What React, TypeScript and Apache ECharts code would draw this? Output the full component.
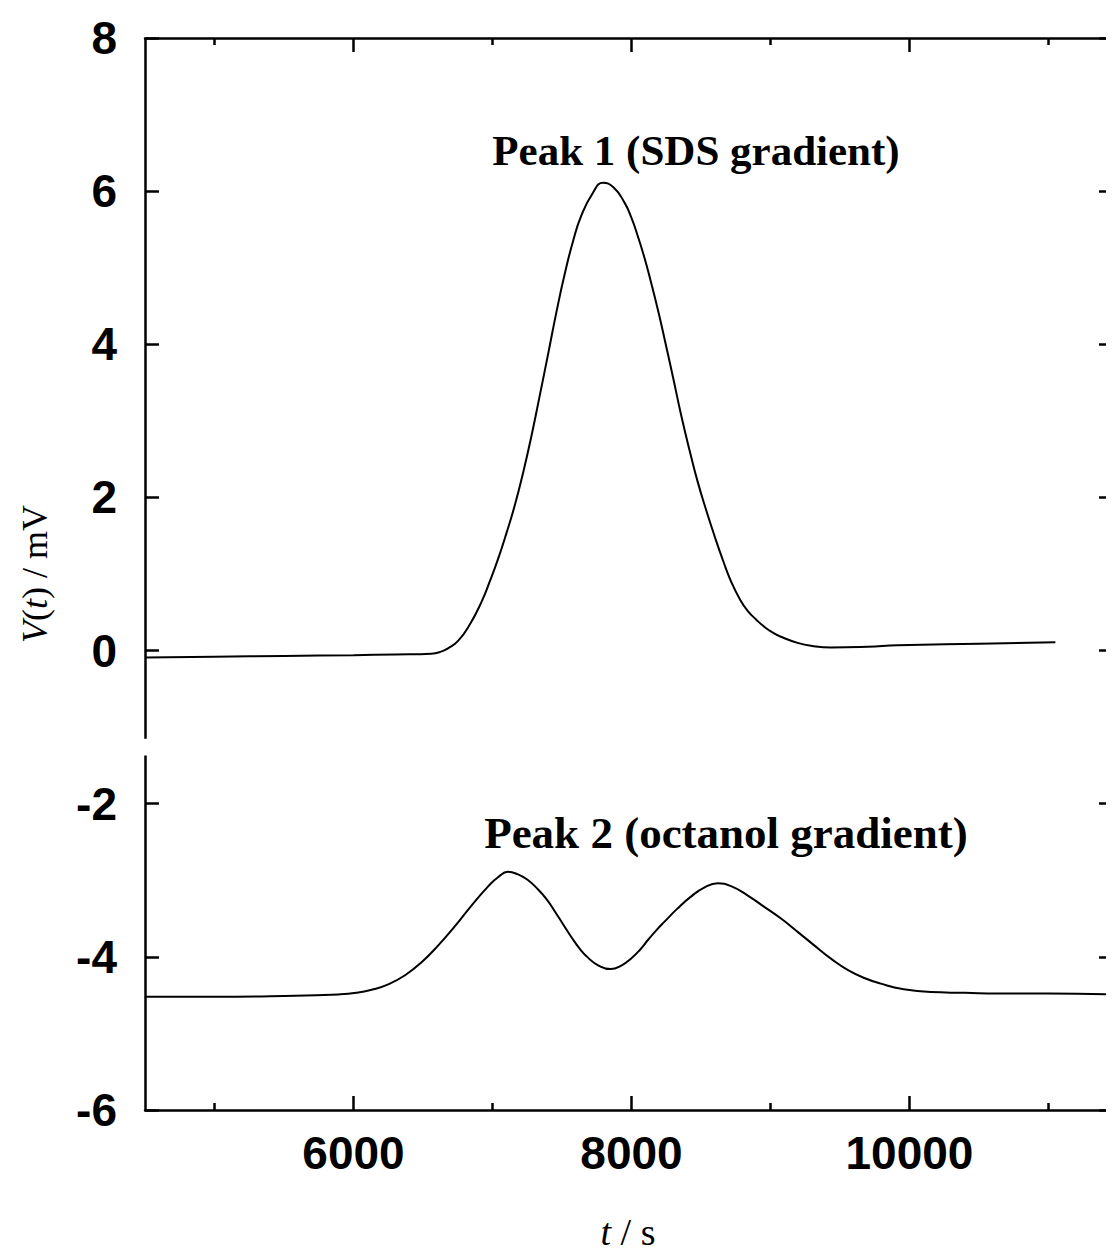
import React, { useEffect, useRef } from "react";
import * as echarts from "echarts";

// ---- data ----
const peak1T = [4500, 5000, 5500, 6000, 6300, 6560, 6620, 6680, 6754, 6840, 6922, 6980, 7041, 7100, 7161, 7220, 7280, 7340, 7400, 7460, 7520, 7580, 7639, 7720, 7795, 7870, 7950, 8000, 8046, 8095, 8142, 8190, 8238, 8300, 8358, 8420, 8477, 8540, 8597, 8660, 8717, 8780, 8836, 8900, 8956, 9020, 9075, 9195, 9300, 9435, 9700, 9915, 10500, 11050];
const peak1V = [-0.09, -0.08, -0.07, -0.06, -0.05, -0.04, -0.02, 0.03, 0.13, 0.35, 0.64, 0.9, 1.2, 1.53, 1.9, 2.32, 2.8, 3.33, 3.87, 4.42, 4.92, 5.35, 5.68, 5.97, 6.11, 6.05, 5.85, 5.65, 5.41, 5.12, 4.8, 4.45, 4.07, 3.56, 3.07, 2.6, 2.2, 1.82, 1.5, 1.17, 0.9, 0.67, 0.52, 0.4, 0.31, 0.23, 0.18, 0.1, 0.06, 0.04, 0.05, 0.07, 0.09, 0.11];

const peak2T = [4500, 5000, 5500, 5892, 6020, 6131, 6250, 6371, 6490, 6610, 6730, 6849, 6969, 7040, 7112, 7180, 7250, 7328, 7390, 7450, 7510, 7567, 7630, 7687, 7760, 7850, 7930, 7998, 8060, 8118, 8180, 8238, 8330, 8430, 8520, 8621, 8720, 8837, 8950, 9076, 9200, 9315, 9440, 9555, 9680, 9794, 9950, 10153, 10400, 10632, 11000, 11450];
const peak2V = [-4.52, -4.52, -4.51, -4.49, -4.47, -4.43, -4.36, -4.24, -4.07, -3.85, -3.6, -3.33, -3.08, -2.96, -2.89, -2.92, -2.99, -3.12, -3.25, -3.41, -3.58, -3.74, -3.9, -4.01, -4.11, -4.16, -4.11, -4.02, -3.91, -3.78, -3.65, -3.54, -3.37, -3.21, -3.1, -3.04, -3.08, -3.2, -3.34, -3.5, -3.68, -3.85, -4.03, -4.17, -4.28, -4.35, -4.42, -4.46, -4.47, -4.48, -4.48, -4.49];

const xMajorTicks = [6000, 8000, 10000];
const xMinorTicks = [5000, 7000, 9000, 11000];
const X_MIN = 4500;
const X_MAX = 11450;
const Y_MIN = -6;
const Y_MAX = 8;
const Y_STEP = 2;
// break in the left axis line (data units)
const AXIS_BREAK = [-1.15, -1.37];

const label1 = "Peak 1 (SDS gradient)";
const label2 = "Peak 2 (octanol gradient)";

const SERIF = "'Liberation Serif', 'Times New Roman', serif";
const SANS = "'Liberation Sans', Arial, sans-serif";

export default function App() {
  const ref = useRef<HTMLDivElement>(null);
  useEffect(() => {
    if (!ref.current) return;
    const chart = echarts.init(ref.current, undefined, { renderer: "svg" });
    const axisLineStyle = { color: "#000", width: 2.5 };
    const tickStyle = { color: "#000", width: 2.5 };
    const baseX = {
      type: "value" as const,
      min: X_MIN,
      max: X_MAX,
      splitLine: { show: false },
    };
    const option: any = {
      animation: false,
      backgroundColor: "#fff",
      grid: { left: 145, top: 38, right: 3, bottom: 144 },
      xAxis: [
        {
          ...baseX,
          position: "bottom",
          axisLine: { show: true, onZero: false, lineStyle: axisLineStyle },
          axisTick: { show: true, inside: true, length: 14, customValues: xMajorTicks, lineStyle: tickStyle },
          axisLabel: {
            show: true,
            customValues: xMajorTicks,
            formatter: (v: number) => String(v),
            margin: 20,
            color: "#000",
            fontFamily: SANS,
            fontWeight: "bold",
            fontSize: 46,
          },
          name: "{i|t} / s",
          nameLocation: "middle",
          nameGap: 103,
          nameTextStyle: {
            color: "#000",
            fontFamily: SERIF,
            fontSize: 38,
            rich: { i: { fontStyle: "italic", fontFamily: SERIF, fontSize: 38, color: "#000" } },
          },
        },
        {
          ...baseX,
          position: "bottom",
          axisLine: { show: false, onZero: false },
          axisTick: { show: true, inside: true, length: 7, customValues: xMinorTicks, lineStyle: tickStyle },
          axisLabel: { show: false },
        },
        {
          ...baseX,
          position: "top",
          axisLine: { show: true, onZero: false, lineStyle: axisLineStyle },
          axisTick: { show: true, inside: true, length: 14, customValues: xMajorTicks, lineStyle: tickStyle },
          axisLabel: { show: false },
        },
        {
          ...baseX,
          position: "top",
          axisLine: { show: false, onZero: false },
          axisTick: { show: true, inside: true, length: 7, customValues: xMinorTicks, lineStyle: tickStyle },
          axisLabel: { show: false },
        },
      ],
      yAxis: [
        {
          type: "value",
          position: "left",
          min: Y_MIN,
          max: Y_MAX,
          interval: Y_STEP,
          splitLine: { show: false },
          axisLine: { show: false, onZero: false },
          axisTick: { show: true, inside: true, length: 14, lineStyle: tickStyle },
          axisLabel: {
            show: true,
            margin: 28,
            color: "#000",
            fontFamily: SANS,
            fontWeight: "bold",
            fontSize: 46,
            padding: [0, 0, 12, 0],
          },
          name: "{i|V}({i|t}) / mV",
          nameLocation: "middle",
          nameGap: 92,
          nameTextStyle: {
            color: "#000",
            fontFamily: SERIF,
            fontSize: 36,
            rich: { i: { fontStyle: "italic", fontFamily: SERIF, fontSize: 36, color: "#000" } },
          },
        },
        {
          type: "value",
          position: "right",
          min: Y_MIN,
          max: Y_MAX,
          interval: Y_STEP,
          splitLine: { show: false },
          axisLine: { show: true, onZero: false, lineStyle: axisLineStyle },
          axisTick: { show: true, inside: true, length: 12, lineStyle: tickStyle },
          axisLabel: { show: false },
        },
      ],
      series: [
        {
          type: "line",
          xAxisIndex: 0,
          yAxisIndex: 0,
          data: peak1T.map((t, i) => [t, peak1V[i]]),
          showSymbol: false,
          smooth: 0.5,
          clip: false,
          lineStyle: { color: "#000", width: 2 },
          itemStyle: { color: "#000" },
          markLine: {
            silent: true,
            symbol: ["none", "none"],
            label: { show: false },
            lineStyle: { color: "#000", width: 2.5, type: "solid" },
            data: [
              [{ coord: [X_MIN, Y_MAX] }, { coord: [X_MIN, AXIS_BREAK[0]] }],
              [{ coord: [X_MIN, AXIS_BREAK[1]] }, { coord: [X_MIN, Y_MIN] }],
            ],
          },
        },
        {
          type: "line",
          xAxisIndex: 0,
          yAxisIndex: 0,
          data: peak2T.map((t, i) => [t, peak2V[i]]),
          showSymbol: false,
          smooth: 0.5,
          lineStyle: { color: "#000", width: 2 },
          itemStyle: { color: "#000" },
        },
      ],
      graphic: [
        {
          type: "text",
          x: 696,
          y: 150,
          style: {
            text: label1,
            fill: "#000",
            fontFamily: SERIF,
            fontWeight: "bold",
            fontSize: 43,
            align: "center",
            verticalAlign: "middle",
            textAlign: "center",
            textVerticalAlign: "middle",
          },
        },
        {
          type: "text",
          x: 726,
          y: 833,
          style: {
            text: label2,
            fill: "#000",
            fontFamily: SERIF,
            fontWeight: "bold",
            fontSize: 45,
            align: "center",
            verticalAlign: "middle",
            textAlign: "center",
            textVerticalAlign: "middle",
          },
        },
      ],
    };
    chart.setOption(option);
    return () => chart.dispose();
  }, []);
  return <div ref={ref} style={{ width: 1114, height: 1256, margin: -8 }} />;
}
